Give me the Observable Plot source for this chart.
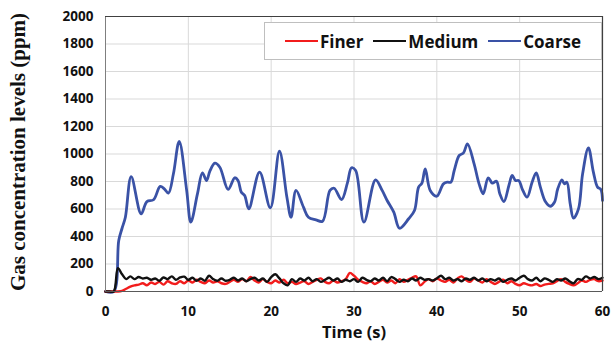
<!DOCTYPE html>
<html>
<head>
<meta charset="utf-8">
<script src="https://cdn.jsdelivr.net/npm/d3@7"></script>
<script src="https://cdn.jsdelivr.net/npm/@observablehq/plot@0.6"></script>
<style>
  html, body { margin: 0; padding: 0; background: #fff; }
  #wrap { position: relative; width: 614px; height: 349px; }
  #legend {
    position: absolute; left: 264px; top: 22px; width: 338px; height: 38px;
    background: #fff; border: 1px solid #bfbfbf; box-sizing: border-box;
    display: flex; align-items: center; justify-content: center; gap: 10px;
    font-family: "Open Sans", sans-serif; font-weight: 700; font-size: 17px; color: #111;
  }
  #legend .item { display: flex; align-items: center; }
  #legend .sw { display: inline-block; width: 33px; height: 2.5px; margin-right: 2px; }
</style>
</head>
<body>
<div id="wrap">
  <div id="chart"></div>
  <div id="legend"></div>
</div>
<script>
// ---- data ----
const seriesNames = ["Finer", "Medium", "Coarse"];
const seriesColors = ["#f21c1c", "#111111", "#3a52a6"];

const xTicks = [0, 10, 20, 30, 40, 50, 60];
const yTicks = [0, 200, 400, 600, 800, 1000, 1200, 1400, 1600, 1800, 2000];

const coarseTime = [0, 1.0, 1.6, 2.0, 2.4, 3.1, 4.3, 5.0, 5.8, 6.6, 7.1, 7.6, 8.2, 8.9, 9.8, 10.3, 11.1, 11.7, 12.2, 12.6, 13.2, 13.8, 14.8, 15.6, 16.0, 16.4, 16.8, 17.3, 18.6, 19.9, 21.0, 21.9, 22.4, 23.0, 23.9, 24.5, 25.4, 26.2, 27.1, 27.6, 28.5, 29.2, 29.7, 30.2, 31.2, 32.6, 33.4, 34.0, 34.8, 35.5, 36.6, 37.3, 37.8, 38.2, 38.6, 39.2, 40.0, 40.8, 41.3, 41.7, 42.1, 42.7, 43.2, 43.7, 44.5, 45.1, 45.6, 46.2, 46.7, 47.2, 47.6, 48.1, 48.7, 49.1, 49.5, 49.9, 50.3, 50.9, 51.5, 52.0, 52.5, 53.1, 53.7, 54.2, 54.6, 55.1, 55.4, 55.7, 56.1, 56.5, 57.1, 57.6, 58.3, 58.9, 59.4, 59.8, 60.0];
const coarseValue = [0, 0, 371, 460, 540, 836, 565, 654, 667, 764, 747, 715, 856, 1091, 735, 504, 710, 863, 807, 875, 933, 904, 742, 827, 807, 722, 698, 601, 868, 609, 1020, 686, 540, 735, 613, 540, 521, 511, 735, 751, 669, 788, 900, 880, 504, 812, 735, 662, 577, 460, 529, 589, 759, 788, 892, 735, 693, 783, 795, 795, 880, 989, 1006, 1074, 928, 783, 711, 827, 788, 802, 711, 654, 771, 844, 807, 807, 747, 686, 795, 863, 759, 654, 620, 649, 747, 812, 783, 795, 638, 533, 601, 856, 1045, 868, 759, 742, 662];

const lowTime = [0, 0.5, 1, 1.5, 2, 2.5, 3, 3.5, 4, 4.5, 5, 5.5, 6, 6.5, 7, 7.5, 8, 8.5, 9, 9.5, 10, 10.5, 11, 11.5, 12, 12.5, 13, 13.5, 14, 14.5, 15, 15.5, 16, 16.5, 17, 17.5, 18, 18.5, 19, 19.5, 20, 20.5, 21, 21.5, 22, 22.5, 23, 23.5, 24, 24.5, 25, 25.5, 26, 26.5, 27, 27.5, 28, 28.5, 29, 29.5, 30, 30.5, 31, 31.5, 32, 32.5, 33, 33.5, 34, 34.5, 35, 35.5, 36, 36.5, 37, 37.5, 38, 38.5, 39, 39.5, 40, 40.5, 41, 41.5, 42, 42.5, 43, 43.5, 44, 44.5, 45, 45.5, 46, 46.5, 47, 47.5, 48, 48.5, 49, 49.5, 50, 50.5, 51, 51.5, 52, 52.5, 53, 53.5, 54, 54.5, 55, 55.5, 56, 56.5, 57, 57.5, 58, 58.5, 59, 59.5, 60];
const finerValue = [0, 0, 0, 0, 5, 20, 35, 45, 50, 60, 45, 65, 55, 70, 50, 75, 60, 55, 75, 60, 80, 65, 85, 70, 60, 80, 65, 75, 60, 55, 70, 85, 70, 90, 75, 105, 80, 65, 90, 70, 60, 80, 65, 85, 60, 70, 55, 65, 75, 55, 70, 85, 95, 70, 60, 80, 65, 75, 90, 135, 115, 85, 70, 60, 75, 55, 70, 85, 65, 80, 60, 90, 70, 85, 100, 110, 45, 70, 90, 75, 95, 80, 70, 85, 65, 95, 110, 85, 70, 95, 80, 65, 90, 70, 55, 70, 85, 60, 75, 55, 45, 60, 50, 45, 55, 40, 50, 55, 60, 75, 90, 70, 55, 45, 60, 80, 70, 85, 90, 75, 80];
const mediumValue = [0, 0, 0, 170, 125, 90, 110, 90, 105, 95, 100, 85, 95, 78, 102, 90, 110, 85, 102, 108, 85, 100, 78, 95, 78, 115, 90, 78, 95, 78, 85, 100, 80, 95, 75, 90, 100, 80, 95, 70, 105, 125, 95, 60, 45, 90, 70, 95, 80, 100, 75, 90, 70, 85, 100, 80, 95, 70, 85, 75, 90, 70, 100, 85, 75, 95, 80, 100, 75, 105, 90, 70, 85, 75, 95, 80, 100, 85, 90, 80, 95, 115, 90, 100, 80, 90, 75, 95, 85, 100, 80, 95, 75, 90, 80, 95, 70, 85, 95, 80, 100, 115, 90, 80, 100, 75, 95, 85, 70, 90, 80, 95, 75, 60, 90, 85, 110, 95, 105, 90, 100];

// ---- tables built from the arrays ----
const coarse = coarseTime.map((t, i) => ({t, v: coarseValue[i], s: "Coarse"}));
const finer = lowTime.map((t, i) => ({t, v: finerValue[i], s: "Finer"}));
const medium = lowTime.map((t, i) => ({t, v: mediumValue[i], s: "Medium"}));

const chart = Plot.plot({
  width: 614,
  height: 349,
  marginLeft: 105,
  marginRight: 12,
  marginTop: 16,
  marginBottom: 58,
  style: {fontFamily: "'Open Sans', sans-serif", background: "#fff", overflow: "visible"},
  x: {domain: [0, 60]},
  y: {domain: [0, 2000]},
  color: {domain: seriesNames, range: seriesColors},
  marks: [
    Plot.gridX(xTicks, {stroke: "#d9d9d9", strokeOpacity: 1, strokeWidth: 1}),
    Plot.gridY(yTicks, {stroke: "#d9d9d9", strokeOpacity: 1, strokeWidth: 1}),
    Plot.line(coarse, {x: "t", y: "v", stroke: "s", strokeWidth: 2.8, curve: "catmull-rom"}),
    Plot.line(finer, {x: "t", y: "v", stroke: "s", strokeWidth: 2.4, curve: "catmull-rom"}),
    Plot.line(medium, {x: "t", y: "v", stroke: "s", strokeWidth: 2.4, curve: "catmull-rom"}),
    Plot.ruleY([0], {stroke: "#595959", strokeWidth: 1.2}),
    Plot.ruleX([0], {stroke: "#7f7f7f", strokeWidth: 1}),
    Plot.ruleX([60], {stroke: "#404040", strokeWidth: 1.2}),
    Plot.ruleY([2000], {stroke: "#404040", strokeWidth: 1}),
    Plot.axisX(xTicks, {tickSize: 0, tickPadding: 15, tickFormat: d => String(d), fontSize: 13.5, fontWeight: "bold", fill: "#111", label: null}),
    Plot.axisY(yTicks, {tickSize: 0, tickPadding: 12, tickFormat: d => String(d), fontSize: 13.5, fontWeight: "bold", fill: "#111", label: null}),
    Plot.text(["Time (s)"], {frameAnchor: "bottom", dy: 41, lineAnchor: "middle", fontSize: 16.5, fontWeight: "bold", fill: "#111"}),
    Plot.text(["Gas concentration levels (ppm)"], {frameAnchor: "left", dx: -87, dy: -2, rotate: -90, textAnchor: "middle", lineAnchor: "middle", fontSize: 21, fontWeight: "bold", fontFamily: "'Liberation Serif', serif", fill: "#111"})
  ]
});
document.getElementById("chart").appendChild(chart);

const legend = document.getElementById("legend");
seriesNames.forEach((name, i) => {
  const item = document.createElement("span");
  item.className = "item";
  const sw = document.createElement("span");
  sw.className = "sw";
  sw.style.background = seriesColors[i];
  item.appendChild(sw);
  item.appendChild(document.createTextNode(name));
  legend.appendChild(item);
});
</script>
</body>
</html>
